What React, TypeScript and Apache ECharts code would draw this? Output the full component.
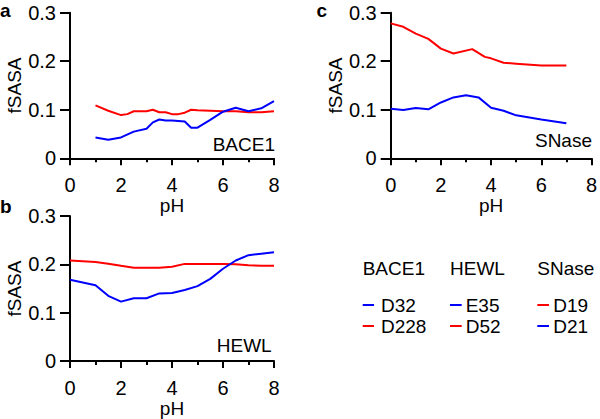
import React, { useEffect, useRef } from "react";
import * as echarts from "echarts";

// Panel a: BACE1
const bacePhD32 = [1, 1.5, 2, 2.5, 3, 3.25, 3.5, 3.75, 4, 4.25, 4.5, 4.75, 5, 5.5, 6, 6.5, 7, 7.5, 8];
const baceD32 = [0.043, 0.038, 0.043, 0.055, 0.061, 0.074, 0.080, 0.078, 0.078, 0.077, 0.076, 0.063, 0.063, 0.079, 0.096, 0.104, 0.097, 0.103, 0.118];
const bacePhD228 = [1, 1.5, 2, 2.25, 2.5, 3, 3.25, 3.5, 3.75, 4, 4.25, 4.5, 4.75, 5, 5.5, 6, 6.5, 7, 7.5, 8];
const baceD228 = [0.109, 0.098, 0.089, 0.091, 0.097, 0.097, 0.100, 0.095, 0.095, 0.091, 0.091, 0.094, 0.100, 0.099, 0.098, 0.097, 0.097, 0.095, 0.095, 0.097];

// Panel b: HEWL
const hewlPh = [0, 1, 1.5, 2, 2.5, 3, 3.5, 4, 4.5, 5, 5.5, 6, 6.5, 7, 7.5, 8];
const hewlE35 = [0.168, 0.157, 0.135, 0.123, 0.130, 0.130, 0.140, 0.141, 0.147, 0.155, 0.170, 0.191, 0.208, 0.219, 0.222, 0.225];
const hewlD52 = [0.208, 0.205, 0.2015, 0.197, 0.193, 0.193, 0.193, 0.195, 0.201, 0.201, 0.201, 0.201, 0.200, 0.198, 0.197, 0.197];

// Panel c: SNase
const snasePhD19 = [0, 0.5, 1, 1.5, 2, 2.5, 3.25, 3.75, 4, 4.5, 5, 6, 7];
const snaseD19 = [0.278, 0.271, 0.257, 0.246, 0.226, 0.216, 0.225, 0.209, 0.206, 0.197, 0.195, 0.191, 0.191];
const snasePhD21 = [0, 0.5, 1, 1.5, 2, 2.5, 3, 3.5, 4, 4.5, 5, 6, 7];
const snaseD21 = [0.102, 0.0995, 0.1035, 0.101, 0.115, 0.1255, 0.130, 0.1255, 0.104, 0.098, 0.0885, 0.080, 0.072];

const panelLetters = ["a", "b", "c"];
const panelNames = ["BACE1", "HEWL", "SNase"];
const legendEntries = [
  ["D32", "D228"],
  ["E35", "D52"],
  ["D19", "D21"],
];
const legendColors = [
  ["blue", "red"],
  ["blue", "red"],
  ["red", "blue"],
];

const RED = "#ff0000";
const BLUE = "#0000ff";
const FONT = "Liberation Sans";

const zip = (xs: number[], ys: number[]) => xs.map((x, i) => [x, ys[i]]);

export default function App() {
  const ref = useRef<HTMLDivElement>(null);
  useEffect(() => {
    if (!ref.current) return;
    const chart = echarts.init(ref.current, null, { renderer: "svg" });

    const grids = [
      { left: 70, top: 12.7, width: 204, height: 145.6 },
      { left: 70, top: 216, width: 204, height: 146.3 },
      { left: 390.7, top: 12.7, width: 204.3, height: 145.6 },
    ];
    const yNameGaps = [41, 41, 45];

    const blackLine = { color: "#000", width: 2 };
    const xAxes = grids.map((_, i) => ({
      type: "value",
      gridIndex: i,
      min: 0,
      max: 8,
      interval: 2,
      axisLine: { show: true, onZero: false, lineStyle: blackLine },
      axisTick: { show: true, length: 7, lineStyle: blackLine },
      minorTick: { show: true, splitNumber: 2, length: 4, lineStyle: blackLine },
      splitLine: { show: false },
      axisLabel: { fontSize: 20, color: "#000", fontFamily: FONT, margin: 17 },
      name: "pH",
      nameLocation: "middle",
      nameGap: 33,
      nameTextStyle: { fontSize: 19, color: "#000", fontFamily: FONT },
    }));
    const yAxes = grids.map((_, i) => ({
      type: "value",
      gridIndex: i,
      min: 0,
      max: 0.3,
      interval: 0.1,
      axisLine: { show: true, onZero: false, lineStyle: blackLine },
      axisTick: { show: true, length: 10, lineStyle: blackLine },
      splitLine: { show: false },
      axisLabel: {
        fontSize: 20,
        color: "#000",
        fontFamily: FONT,
        margin: 14,
        formatter: (v: number) => (Math.abs(v) < 1e-9 ? "0" : v.toFixed(1)),
      },
      name: "fSASA",
      nameLocation: "middle",
      nameGap: yNameGaps[i],
      nameTextStyle: { fontSize: 19, color: "#000", fontFamily: FONT },
    }));

    const mk = (idx: number, data: number[][], color: string, name: string) => ({
      type: "line",
      name,
      xAxisIndex: idx,
      yAxisIndex: idx,
      data,
      symbol: "none",
      lineStyle: { color, width: 2 },
      itemStyle: { color },
    });

    const series = [
      mk(0, zip(bacePhD228, baceD228), RED, "D228"),
      mk(0, zip(bacePhD32, baceD32), BLUE, "D32"),
      mk(1, zip(hewlPh, hewlD52), RED, "D52"),
      mk(1, zip(hewlPh, hewlE35), BLUE, "E35"),
      mk(2, zip(snasePhD19, snaseD19), RED, "D19"),
      mk(2, zip(snasePhD21, snaseD21), BLUE, "D21"),
    ];

    const txt = (x: number, y: number, text: string, opts: any = {}) => ({
      type: "text",
      x,
      y,
      style: {
        text,
        fill: "#000",
        fontSize: opts.fontSize ?? 19,
        fontFamily: FONT,
        fontWeight: opts.fontWeight ?? "normal",
        align: opts.align ?? "left",
        verticalAlign: "middle",
      },
    });

    const letterPos = [
      [0, 10],
      [0, 206],
      [316.5, 10],
    ];
    const innerPos = [
      [275, 144],
      [271.7, 345.7],
      [592, 140],
    ];
    const colX = [362.7, 450, 537.3];
    const lineEnd = [374, 461.7, 549];
    const textX = [381, 465.7, 553.3];
    const rowY = [305, 326];

    const graphics: any[] = [];
    panelLetters.forEach((l, i) => {
      graphics.push(txt(letterPos[i][0], letterPos[i][1], l, { fontSize: 19, fontWeight: "bold" }));
    });
    panelNames.forEach((n, i) => {
      graphics.push(txt(innerPos[i][0], innerPos[i][1], n, { align: "right" }));
      graphics.push(txt(colX[i], 268.3, n));
      legendEntries[i].forEach((e, j) => {
        graphics.push({
          type: "line",
          shape: { x1: colX[i], y1: rowY[j], x2: lineEnd[i], y2: rowY[j] },
          style: { stroke: legendColors[i][j] === "red" ? RED : BLUE, lineWidth: 2 },
        });
        graphics.push(txt(textX[i], rowY[j], e));
      });
    });

    chart.setOption({
      animation: false,
      backgroundColor: "#fff",
      grid: grids.map((g) => ({ ...g, containLabel: false })),
      xAxis: xAxes,
      yAxis: yAxes,
      series,
      graphic: graphics,
    } as any);

    return () => chart.dispose();
  }, []);

  return (
    <div
      ref={ref}
      style={{ position: "fixed", left: 0, top: 0, width: 600, height: 419, background: "#fff" }}
    />
  );
}
